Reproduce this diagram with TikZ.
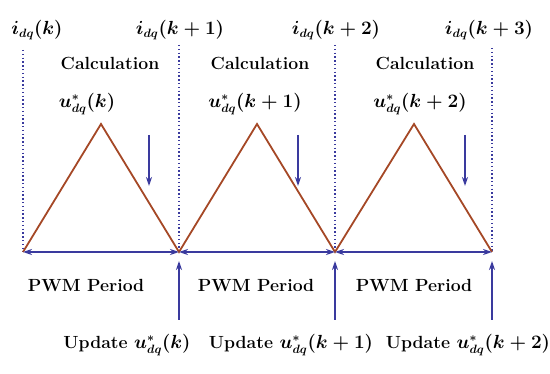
\documentclass[tikz,border=0pt]{standalone}
\usetikzlibrary{arrows.meta}
\definecolor{navy}{RGB}{58,58,158}
\definecolor{tri}{RGB}{165,72,38}
\begin{document}
\begin{tikzpicture}[x=1pt,y=-1pt,font=\fontsize{16}{19}\selectfont\bfseries\boldmath,
  blk/.style={navy,line width=1.6pt,-{Stealth[length=9pt,width=6pt]}},
  dots/.style={navy,line width=1.5pt,dash pattern=on 1.5pt off 2.3pt},
  lbl/.style={scale=1.1}]
\useasboundingbox (0,0) rectangle (550,374);
% time instants, top of the dotted lines, peaks
\foreach \n/\x/\y in {0/23/50,1/179/45,2/335/45,3/492/48} { \coordinate (t\n) at (\x,252); \coordinate (h\n) at (\x,\y); \draw[dots] (h\n) -- (t\n); }
\foreach \n/\x in {1/101,2/257,3/414} { \coordinate (p\n) at (\x,124); }
\draw[tri,line width=1.8pt] (t0) -- (p1) -- (t1) -- (p2) -- (t2) -- (p3) -- (t3);
\foreach \a/\b in {0/1,1/2,2/3} { \draw[blk,{Stealth[length=9pt,width=6pt]}-{Stealth[length=9pt,width=6pt]}] (t\a) -- (t\b); }
% sampled currents
\foreach \n/\x/\s in {0/37/,1/180/+1,2/336/+2,3/489/+3} { \node[lbl] (i\n) at (\x,30) {$i_{dq}\Bigl(k\s\Bigr)$}; }
% calculation and update
\foreach \n/\x/\u/\s in {1/110/87/,2/260/255/+1,3/425/420/+2} {
  \node[lbl] (calc\n) at (\x,63) {Calculation};
  \node[lbl] (u\n) at (\u,104) {$u^*_{dq}\Bigl(k\s\Bigr)$}; }
\foreach \n/\x in {1/149,2/298,3/465} { \coordinate (a\n) at (\x,135); \coordinate (b\n) at (\x,186); \draw[blk] (a\n) -- (b\n); }
\foreach \n/\x in {1/86,2/256,3/414} { \node[lbl] (pwm\n) at (\x,285) {PWM Period}; }
\foreach \n/\x/\c/\s in {1/127/179/,2/291/335/+1,3/468/492/+2} {
  \node[lbl] (upd\n) at (\x,345) {Update $u^*_{dq}\Bigl(k\s\Bigr)$};
  \coordinate (q\n) at (\c,320); \coordinate (r\n) at (\c,261); \draw[blk] (q\n) -- (r\n); }
\end{tikzpicture}
\end{document}
